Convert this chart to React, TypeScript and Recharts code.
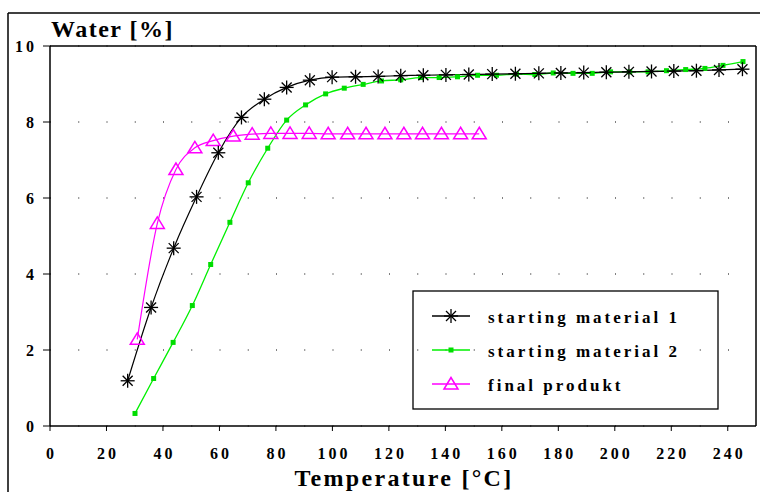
import React from 'react';
import { LineChart, Line, XAxis, YAxis, CartesianGrid, ReferenceLine, Customized } from 'recharts';

const tempsM1 = [27.5, 35.8, 43.8, 51.9, 59.6, 67.8, 75.9, 83.8, 92, 99.9, 108.2, 116.2, 124.2, 132.2, 140.2, 148.3, 156.6, 164.8, 173.1, 180.9, 189, 197, 205, 213, 220.9, 228.9, 236.9, 245.2];
const waterM1 = [1.19, 3.12, 4.68, 6.03, 7.19, 8.12, 8.6, 8.91, 9.1, 9.18, 9.19, 9.2, 9.22, 9.23, 9.24, 9.25, 9.26, 9.27, 9.28, 9.29, 9.3, 9.31, 9.32, 9.33, 9.34, 9.35, 9.37, 9.39];

const tempsM2 = [30.1, 36.7, 43.6, 50.4, 56.9, 63.7, 70.2, 77.1, 83.8, 90.5, 97.6, 104.2, 110.9, 117.4, 124.2, 131.2, 137.8, 144.3, 151.4, 158.1, 165.2, 171.7, 178.2, 185.2, 192, 198.5, 205.3, 211.8, 218.3, 225.1, 231.9, 238.3, 245.4];
const waterM2 = [0.33, 1.25, 2.2, 3.17, 4.25, 5.36, 6.4, 7.31, 8.05, 8.45, 8.74, 8.89, 8.99, 9.08, 9.11, 9.17, 9.17, 9.19, 9.23, 9.23, 9.26, 9.25, 9.29, 9.28, 9.28, 9.32, 9.32, 9.32, 9.35, 9.38, 9.41, 9.49, 9.59];

const tempsFinal = [30.9, 38, 44.6, 51.3, 57.8, 64.9, 71.6, 78.2, 85, 91.8, 98.5, 105.4, 111.9, 118.6, 125.3, 131.9, 138.6, 145.4, 152];
const waterFinal = [2.28, 5.33, 6.75, 7.32, 7.51, 7.63, 7.68, 7.7, 7.7, 7.7, 7.69, 7.69, 7.69, 7.69, 7.69, 7.69, 7.69, 7.69, 7.69];

const seriesNames = ['starting material 1', 'starting material 2', 'final produkt'];
const xTicks = [0, 20, 40, 60, 80, 100, 120, 140, 160, 180, 200, 220, 240];
const yTicks = [0, 2, 4, 6, 8, 10];
const yTitle = 'Water [%]';
const xTitle = 'Temperature [°C]';

const dataM1 = tempsM1.map((t, i) => ({ t, w: waterM1[i] }));
const dataM2 = tempsM2.map((t, i) => ({ t, w: waterM2[i] }));
const dataFinal = tempsFinal.map((t, i) => ({ t, w: waterFinal[i] }));

const FONT = "'Liberation Serif', 'Times New Roman', serif";
const GREEN = '#00f000';
const GREEN_DOT = '#00dd00';
const MAGENTA = '#ff00ff';

const starShape = (cx: number, cy: number, key: string) => {
  const r = 7;
  const d = 5;
  return (
    <g key={key} stroke="#000" strokeWidth={1.3}>
      <line x1={cx} y1={cy - r} x2={cx} y2={cy + r} />
      <line x1={cx - r} y1={cy} x2={cx + r} y2={cy} />
      <line x1={cx - d} y1={cy - d} x2={cx + d} y2={cy + d} />
      <line x1={cx - d} y1={cy + d} x2={cx + d} y2={cy - d} />
    </g>
  );
};
const squareShape = (cx: number, cy: number, key: string) => (
  <rect key={key} x={cx - 2.5} y={cy - 2.5} width={5} height={5} fill={GREEN_DOT} />
);
const triShape = (cx: number, cy: number, key: string) => (
  <polygon key={key} points={`${cx},${cy - 6.5} ${cx - 7},${cy + 5} ${cx + 7},${cy + 5}`} fill="none" stroke={MAGENTA} strokeWidth={1.5} />
);

const StarDot = (p: any) => (p.cx == null ? <g key={`s${p.index}`} /> : starShape(p.cx, p.cy, `s${p.index}`));
const SquareDot = (p: any) => (p.cx == null ? <g key={`q${p.index}`} /> : squareShape(p.cx, p.cy, `q${p.index}`));
const TriDot = (p: any) => (p.cx == null ? <g key={`t${p.index}`} /> : triShape(p.cx, p.cy, `t${p.index}`));

const XTick = (p: any) => (
  <text x={p.x + 1.5} y={p.y} textAnchor="middle" fontFamily={FONT} fontWeight="bold" fontSize={16} letterSpacing={3} fill="#000">
    {p.payload.value}
  </text>
);
const YTick = (p: any) => (
  <text x={p.x + 3} y={p.y + 5.5} textAnchor="end" fontFamily={FONT} fontWeight="bold" fontSize={16} letterSpacing={3} fill="#000">
    {p.payload.value}
  </text>
);

const Decor = () => {
  const rows = [316, 350, 384];
  const colors = ['#000', GREEN, MAGENTA];
  const shapes = [starShape, squareShape, triShape];
  return (
    <g>
      <line x1={8} y1={13} x2={760} y2={13} stroke="#000" strokeWidth={1.5} />
      <line x1={8} y1={13} x2={8} y2={492} stroke="#000" strokeWidth={1.5} />
      <text x={51} y={37} fontFamily={FONT} fontWeight="bold" fontSize={24} fill="#000" letterSpacing={1.5}>{yTitle}</text>
      <text x={404} y={486} textAnchor="middle" fontFamily={FONT} fontWeight="bold" fontSize={24} fill="#000" letterSpacing={2.3}>{xTitle}</text>
      <rect x={413} y={291} width={305} height={118} fill="none" stroke="#000" strokeWidth={1.3} />
      {rows.map((cy, i) => (
        <g key={i}>
          <line x1={432} y1={cy} x2={470} y2={cy} stroke={colors[i]} strokeWidth={1.3} />
          {shapes[i](451, cy, `leg${i}`)}
          <text x={488} y={cy + 7} fontFamily={FONT} fontWeight="bold" fontSize={17} fill="#000" letterSpacing={3}>{seriesNames[i]}</text>
        </g>
      ))}
    </g>
  );
};

export default function App() {
  return (
    <div style={{ position: 'absolute', left: 0, top: 0, background: '#fff' }}>
      <LineChart width={760} height={492} margin={{ top: 46, right: 4, bottom: 0, left: 0 }}>
        <CartesianGrid vertical={false} stroke="#000" strokeDasharray="1 27.25" />
        <XAxis
          dataKey="t"
          type="number"
          domain={[0, 250]}
          ticks={xTicks}
          allowDataOverflow
          height={66}
          tickSize={5}
          tickMargin={28}
          tick={<XTick />}
          axisLine={{ stroke: '#000', strokeWidth: 1.5 }}
          tickLine={{ stroke: '#000', strokeWidth: 1 }}
        />
        <YAxis
          type="number"
          domain={[0, 10]}
          ticks={yTicks}
          allowDataOverflow
          width={50}
          tickSize={7}
          tickMargin={9}
          tick={<YTick />}
          axisLine={{ stroke: '#000', strokeWidth: 1.5 }}
          tickLine={{ stroke: '#000', strokeWidth: 1 }}
        />
        <ReferenceLine y={10} stroke="#000" strokeWidth={1.5} />
        <ReferenceLine x={250} stroke="#000" strokeWidth={1.5} />
        <Line data={dataM2} dataKey="w" type="monotone" stroke={GREEN} strokeWidth={1.3} dot={SquareDot} activeDot={false} isAnimationActive={false} name={seriesNames[1]} />
        <Line data={dataFinal} dataKey="w" type="monotone" stroke={MAGENTA} strokeWidth={1.2} dot={TriDot} activeDot={false} isAnimationActive={false} name={seriesNames[2]} />
        <Line data={dataM1} dataKey="w" type="monotone" stroke="#000" strokeWidth={1.2} dot={StarDot} activeDot={false} isAnimationActive={false} name={seriesNames[0]} />
        <Customized component={Decor} />
      </LineChart>
    </div>
  );
}
